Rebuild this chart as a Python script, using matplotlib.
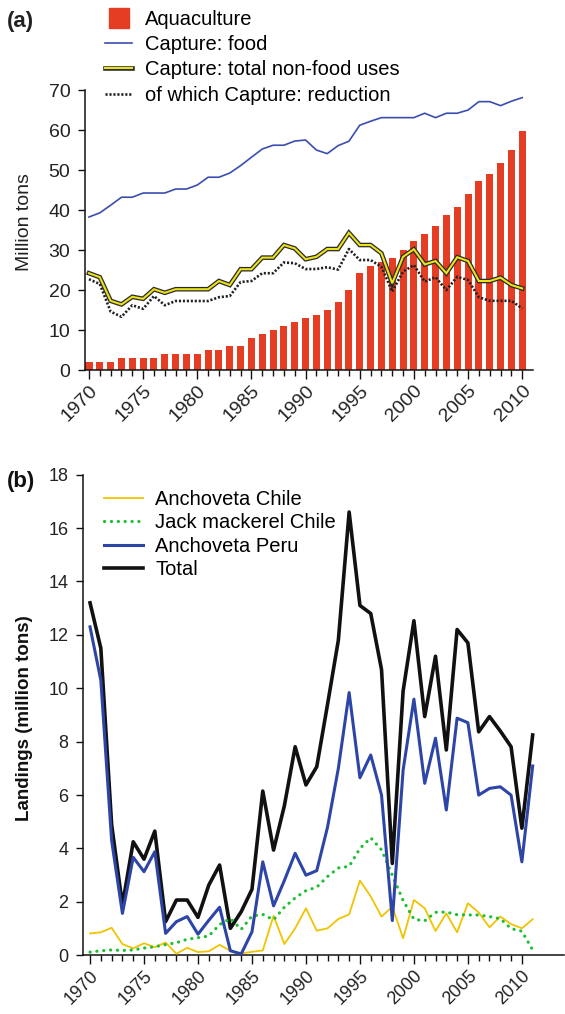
import matplotlib
matplotlib.use("Agg")
import matplotlib.pyplot as plt
import matplotlib.patheffects as pe
from matplotlib.lines import Line2D
from matplotlib.ticker import FixedLocator

plt.rcParams['font.family'] = ['Liberation Sans', 'DejaVu Sans']

# ---------------- Panel (a) data ----------------
years_a = list(range(1970, 2011))
aquaculture = [2, 2, 2, 3, 3, 3, 3, 4, 4, 4,
               4, 5, 5, 6, 6, 8, 9, 10, 11, 12,
               13, 13.75, 15, 17, 20, 24.3, 26, 27, 28, 30,
               32.3, 34, 36, 38.8, 40.8, 44, 47.3, 49, 51.8, 55, 59.8]
capture_food = [38.25, 39.3, 41.2, 43.2, 43.2, 44.25, 44.25, 44.25, 45.25, 45.25,
                46.25, 48.2, 48.2, 49.25, 51.1, 53.2, 55.25, 56.2, 56.2, 57.25,
                57.5, 55.0, 54.1, 56.1, 57.2, 61.2, 62.2, 63.1, 63.1, 63.1,
                63.1, 64.2, 63.1, 64.2, 64.2, 65.0, 67.1, 67.1, 66.1, 67.2, 68.1]
capture_nonfood = [24.2, 23.2, 17.3, 16.4, 18.3, 17.8, 20.2, 19.3, 20.2, 20.2,
                   20.2, 20.2, 22.25, 21.25, 25.2, 25.2, 28.1, 28.1, 31.25, 30.4,
                   27.7, 28.3, 30.25, 30.25, 34.3, 31.25, 31.25, 29.2, 21.7, 28.3,
                   30.2, 26.4, 27.25, 24.2, 28.2, 27.25, 22.25, 22.25, 23.1, 21.25, 20.4]
capture_reduction = [22.7, 21.5, 14.6, 13.3, 16.2, 15.3, 18.5, 16.2, 17.25, 17.25,
                     17.25, 17.25, 18.2, 18.5, 22.0, 22.25, 24.2, 24.2, 26.9, 26.7,
                     25.25, 25.25, 25.7, 25.1, 30.25, 27.5, 27.5, 25.8, 19.6, 24.6,
                     26.25, 22.1, 23.2, 20.0, 23.3, 22.5, 18.2, 17.3, 17.3, 17.3, 15.4]
labels_a = ['Aquaculture', 'Capture: food', 'Capture: total non-food uses',
            'of which Capture: reduction']
xticks_a = list(range(1970, 2011, 5))
yticks_a = list(range(0, 71, 10))

# ---------------- Panel (b) data ----------------
years_b = list(range(1970, 2012))
anchoveta_chile = [0.82, 0.86, 1.03, 0.42, 0.26, 0.45, 0.30, 0.48, 0.06, 0.28,
                   0.12, 0.15, 0.39, 0.17, 0.07, 0.13, 0.18, 1.48, 0.42, 1.01,
                   1.76, 0.92, 1.01, 1.36, 1.53, 2.8, 2.2, 1.45, 1.82, 0.64,
                   2.07, 1.76, 0.91, 1.57, 0.86, 1.95, 1.6, 1.05, 1.45, 1.17, 1.01, 1.35]
jack_mackerel_chile = [0.12, 0.17, 0.2, 0.18, 0.2, 0.27, 0.32, 0.4, 0.47, 0.6,
                       0.66, 0.72, 1.15, 1.38, 0.97, 1.47, 1.53, 1.33, 1.8, 2.15,
                       2.42, 2.55, 2.95, 3.27, 3.33, 4.0, 4.4, 3.95, 3.0, 2.05,
                       1.35, 1.29, 1.61, 1.62, 1.52, 1.51, 1.51, 1.45, 1.37, 1.0, 0.9, 0.2]
anchoveta_peru = [12.3, 10.3, 4.3, 1.57, 3.67, 3.13, 3.88, 0.82, 1.26, 1.45,
                  0.79, 1.31, 1.8, 0.17, 0.05, 0.88, 3.5, 1.85, 2.8, 3.82,
                  3.0, 3.17, 4.8, 7.0, 9.84, 6.65, 7.5, 6.0, 1.3, 6.94,
                  9.59, 6.44, 8.13, 5.44, 8.88, 8.71, 6.0, 6.25, 6.31, 6.0, 3.5, 7.09]
total = [13.2, 11.5, 4.9, 1.88, 4.25, 3.6, 4.65, 1.26, 2.07, 2.07,
         1.42, 2.63, 3.38, 1.01, 1.63, 2.47, 6.15, 3.94, 5.6, 7.81,
         6.38, 7.06, 9.4, 11.8, 16.6, 13.1, 12.8, 10.7, 3.44, 9.9,
         12.53, 8.94, 11.2, 7.69, 12.2, 11.7, 8.37, 8.94, 8.4, 7.81, 4.76, 8.25]
labels_b = ['Anchoveta Chile', 'Jack mackerel Chile', 'Anchoveta Peru', 'Total']
xticks_b = list(range(1970, 2011, 5))
yticks_b = list(range(0, 19, 2))

# ---------------- styles ----------------
RED = '#e43d24'
BLUE_A = '#3a4db0'
YELLOW_A = '#ece21a'
GOLD = '#f0c400'
GREEN = '#1fbf35'
BLUE_B = '#2e45a8'
BLACK = '#111111'

fig = plt.figure(figsize=(5.65, 10.14), dpi=100)
fig.patch.set_facecolor('white')

def style_axes(ax, fs, ylen):
    for s in ('top', 'right'):
        ax.spines[s].set_visible(False)
    for s in ('left', 'bottom'):
        ax.spines[s].set_linewidth(1.1)
        ax.spines[s].set_color('#111111')
    ax.tick_params(axis='y', which='major', length=ylen, width=1.0, labelsize=fs,
                   pad=5.5, colors='#111111', labelcolor='#222222')
    ax.tick_params(axis='x', which='major', length=6.5, width=1.0, labelsize=fs,
                   pad=2, colors='#111111', labelcolor='#222222')
    ax.tick_params(axis='x', which='minor', length=4.3, width=1.0, colors='#111111')
    for lab in ax.get_xticklabels():
        lab.set_rotation(45)
        lab.set_ha('right')
        lab.set_rotation_mode('anchor')

# ---------------- Panel (a) ----------------
axA = fig.add_axes([0.1504, 0.6351, 0.7930, 0.2761])
axA.bar(years_a, aquaculture, width=0.65, color=RED, zorder=1)
lf, = axA.plot(years_a, capture_food, color=BLUE_A, lw=1.2, zorder=3)
ln, = axA.plot(years_a, capture_nonfood, color=YELLOW_A, lw=1.5, zorder=4,
               solid_joinstyle='miter',
               path_effects=[pe.Stroke(linewidth=3.3, foreground='#2a2a2a'), pe.Normal()])
lr, = axA.plot(years_a, capture_reduction, color='#222222', lw=1.9, zorder=3,
               linestyle=(0, (0.8, 0.7)))
axA.set_xlim(years_a[0] - 0.37, years_a[-1] + 1.0)
axA.set_ylim(0, 70)
axA.xaxis.set_major_locator(FixedLocator(xticks_a))
axA.xaxis.set_minor_locator(FixedLocator(years_a))
axA.yaxis.set_major_locator(FixedLocator(yticks_a))
axA.set_xticklabels([str(t) for t in xticks_a])
style_axes(axA, 14, 5.0)

sq = Line2D([], [], marker='s', ms=13.8, color=RED, ls='none')
fig.legend([sq, lf, ln, lr], labels_a, loc='upper left',
           bbox_to_anchor=(105 / 565, 1 - 10 / 1014), frameon=False, fontsize=14.5,
           handlelength=1.35, handletextpad=0.62, labelspacing=0.31,
           borderpad=0, borderaxespad=0)

fig.text(25 / 565, 1 - 222 / 1014, 'Million tons', rotation=90, ha='center', va='center',
         fontsize=14, color='#222222')
fig.text(7 / 565, 1 - 22 / 1014, '(a)', ha='left', va='center', fontsize=16,
         fontweight='bold', color='#222222')

# ---------------- Panel (b) ----------------
axB = fig.add_axes([0.1475, 0.0579, 0.8507, 0.4740])
l1, = axB.plot(years_b, anchoveta_chile, color=GOLD, lw=1.3, zorder=3)
l2, = axB.plot(years_b, jack_mackerel_chile, color=GREEN, lw=2.3, zorder=3,
               linestyle=(0, (0.05, 2.1)), dash_capstyle='round')
l3, = axB.plot(years_b, anchoveta_peru, color=BLUE_B, lw=2.2, zorder=4)
l4, = axB.plot(years_b, total, color=BLACK, lw=2.6, zorder=2)
axB.set_xlim(years_b[0] - 0.62, 2013.9)
axB.set_ylim(0, 18)
axB.xaxis.set_major_locator(FixedLocator(xticks_b))
axB.xaxis.set_minor_locator(FixedLocator(years_a))
axB.yaxis.set_major_locator(FixedLocator(yticks_b))
axB.set_xticklabels([str(t) for t in xticks_b])
style_axes(axB, 13, 5.3)

fig.legend([l1, l2, l3, l4], labels_b, loc='upper left',
           bbox_to_anchor=(104 / 565, 1 - 490 / 1014), frameon=False, fontsize=14.5,
           handlelength=1.95, handletextpad=0.6, labelspacing=0.22,
           borderpad=0, borderaxespad=0)

fig.text(25 / 565, 1 - 718 / 1014, 'Landings (million tons)', rotation=90,
         ha='center', va='center', fontsize=13.5, fontweight='bold', color='#111111')
fig.text(7 / 565, 1 - 481 / 1014, '(b)', ha='left', va='center', fontsize=16,
         fontweight='bold', color='#111111')

fig.savefig('out.png', dpi=100, facecolor='white')
